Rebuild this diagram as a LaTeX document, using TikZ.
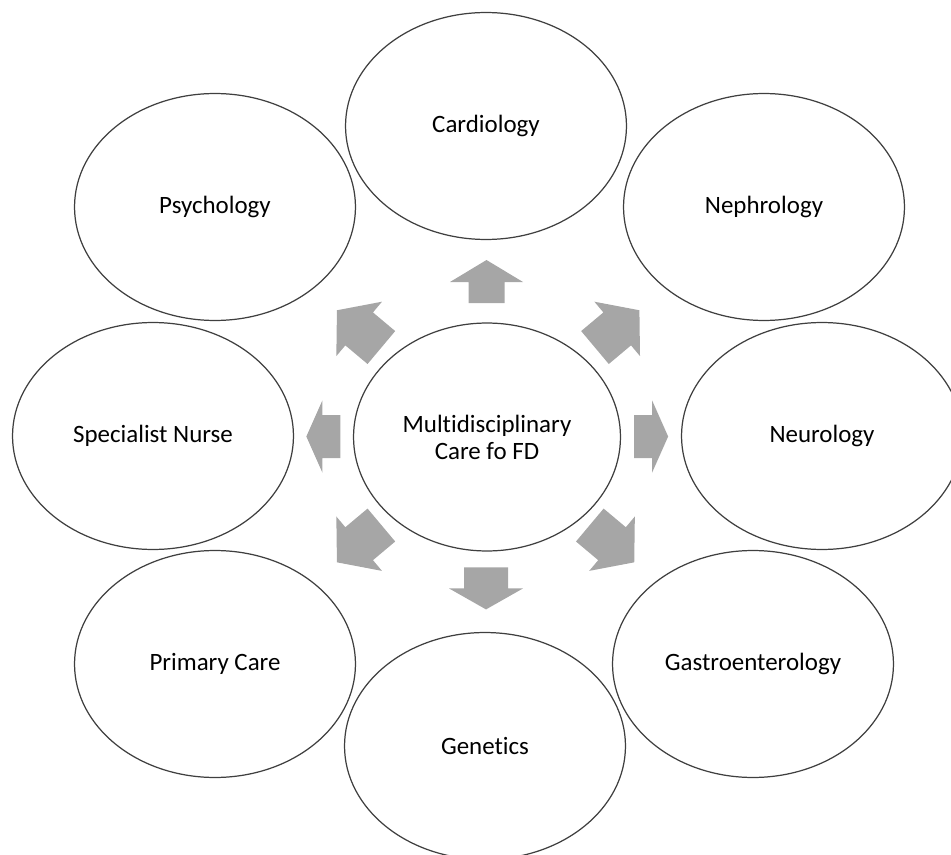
\documentclass[tikz,border=0pt]{standalone}
\usepackage{fontspec}
\setmainfont{Carlito}[Ligatures=NoCommon]
\usetikzlibrary{shapes.geometric,calc}

\definecolor{ringgray}{HTML}{3F3F3F}
\definecolor{arrowgray}{HTML}{A6A6A6}

\tikzset{
	field/.style={ellipse, draw=ringgray, line width=0.7pt, inner sep=0pt,
		minimum width=5.62cm, minimum height=4.54cm, align=center,
		font=\fontsize{14.2}{15.4}\selectfont},
	hubfield/.style={field, minimum width=5.34cm, minimum height=4.56cm},
	arrowbody/.style={fill=arrowgray}
}

% at, angle, length, head length, head width, shaft width
\newcommand{\radarrow}[6]{%
	\fill[arrowbody, shift={(#1)}, rotate=#2]
		(-#3/2,-#6/2) -- (-#3/2+#3-#4,-#6/2) -- (-#3/2+#3-#4,-#5/2) -- (#3/2,0)
		-- (-#3/2+#3-#4,#5/2) -- (-#3/2+#3-#4,#6/2) -- (-#3/2,#6/2) -- cycle;}

\begin{document}
\begin{tikzpicture}[x=0.02cm, y=-0.02cm]
	\useasboundingbox (0,0) rectangle (951,855);
	\node[hubfield] (hub) at (487,437) {Multidisciplinary\\Care fo FD};
	\node[field] (card) at (486,126) {Cardiology};
	\node[field] (neph) at (764,207) {Nephrology};
	\node[field] (neur) at (822,436) {Neurology};
	\node[field] (gast) at (753,664) {Gastroenterology};
	\node[field] (gene) at (485,746) {Genetics};
	\node[field] (prim) at (215,664) {Primary Care};
	\node[field] (nurs) at (153,436) {Specialist Nurse};
	\node[field] (psyc) at (215,207) {Psychology};
	\foreach \to/\f/\ang/\len/\head/\hw/\sw in {
		card/0.5/90/43/22/73/36, gene/0.49/-90/42/21/74/44,
		nurs/0.49/180/34/16/72/43, neur/0.49/0/34/16/72/43,
		psyc/0.47/140/58/29/71/43, neph/0.47/40/58/29/71/43,
		prim/0.47/-140/58/29/71/43, gast/0.47/-40/58/29/71/43}
		\radarrow{$(hub)!\f!(\to)$}{\ang}{\len}{\head}{\hw}{\sw};
\end{tikzpicture}
\end{document}
